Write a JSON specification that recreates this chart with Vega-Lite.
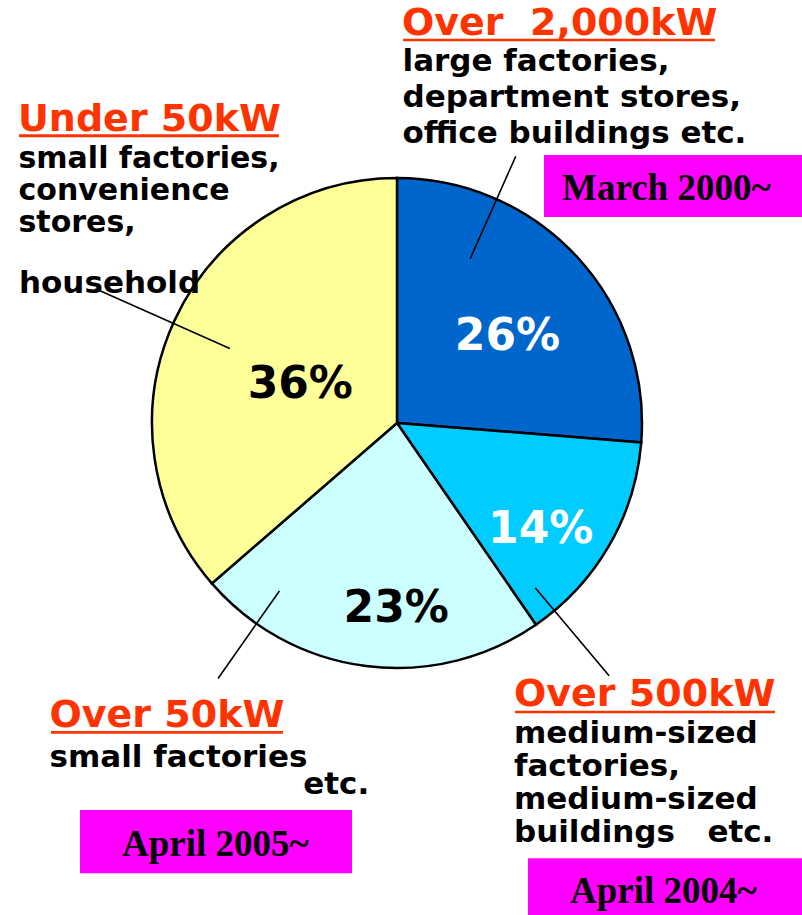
{
  "$schema": "https://vega.github.io/schema/vega-lite/v6.json",
  "width": 794,
  "height": 846,
  "autosize": {"type": "none"},
  "padding": {"left": 0, "top": 0, "right": 8, "bottom": 69},
  "background": "white",
  "config": {"view": {"stroke": null}},
  "data": {
    "values": [
      {"category": "Over 2,000kW", "order": 1, "value": 26, "pct": "26%", "heading": "Over\u00a0 2,000kW", "body": "large factories,\ndepartment stores,\noffice buildings etc.", "start": "March 2000~"},
      {"category": "Over 500kW", "order": 2, "value": 14, "pct": "14%", "heading": "Over 500kW", "body": "medium-sized\nfactories,\nmedium-sized\nbuildings\u00a0\u00a0 etc.", "start": "April 2004~"},
      {"category": "Over 50kW", "order": 3, "value": 23, "pct": "23%", "heading": "Over 50kW", "body": "small factories", "body2": "etc.", "start": "April 2005~"},
      {"category": "Under 50kW", "order": 4, "value": 36, "pct": "36%", "heading": "Under 50kW", "body": "small factories,\nconvenience\nstores,", "body2": "household"}
    ]
  },
  "layer": [
    {
      "mark": {"type": "arc", "radius": 245, "stroke": "black", "strokeWidth": 2.5},
      "encoding": {
        "theta": {"field": "value", "type": "quantitative", "stack": true},
        "order": {"field": "order", "type": "quantitative"},
        "color": {
          "field": "category", "type": "nominal",
          "scale": {"domain": ["Over 2,000kW", "Over 500kW", "Over 50kW", "Under 50kW"], "range": ["#0066CC", "#00CCFF", "#CCFFFF", "#FFFF99"]},
          "legend": null
        }
      }
    },
    {
      "transform": [
        {"stack": "value", "groupby": [], "sort": [{"field": "order", "order": "ascending"}], "as": ["v0", "v1"]},
        {"filter": {"field": "category", "equal": "Over 2,000kW"}}
      ],
      "resolve": {"scale": {"fill": "independent"}, "legend": {"fill": "independent"}},
      "layer": [
        {
          "mark": {"type": "arc", "radius": 292, "radius2": 180, "thetaOffset": 0.4189, "theta2Offset": 0.4189, "filled": false, "stroke": "black", "strokeWidth": 1.6},
          "encoding": {"theta": {"field": "v0", "type": "quantitative", "stack": null}, "theta2": {"field": "v0"}}
        },
        {
          "mark": {"type": "text", "radius": 250, "dx": 110.5, "dy": 176.5, "align": "center", "baseline": "alphabetic", "font": "DejaVu Sans", "fontWeight": "bold", "fontSize": 44, "color": "white"},
          "encoding": {"theta": {"field": "v0", "type": "quantitative", "stack": null}, "text": {"field": "pct"}}
        },
        {
          "mark": {"type": "text", "radius": 250, "dx": 5.5, "dy": -102.3, "align": "left", "baseline": "alphabetic", "font": "DejaVu Sans", "fontWeight": "bold", "fontSize": 31, "lineHeight": 36, "lineBreak": "\n", "color": "black"},
          "encoding": {"theta": {"field": "v0", "type": "quantitative", "stack": null}, "text": {"field": "body"}}
        },
        {
          "mark": {"type": "arc", "radius": 0, "strokeWidth": 0},
          "encoding": {
            "fill": {
              "field": "heading", "type": "nominal", "scale": {"range": ["#FF3300"]},
              "legend": {"title": null, "orient": "none", "legendX": 403, "legendY": -121, "padding": 0,
                "symbolType": "M-1,0.0237H1V0.0404H-1Z", "symbolSize": 97344, "symbolStrokeColor": "transparent", "symbolStrokeWidth": 0, "symbolOpacity": 1,
                "labelFont": "DejaVu Sans", "labelFontSize": 38, "labelFontWeight": "bold", "labelColor": "#FF3300", "labelBaseline": "alphabetic", "labelOffset": -313, "labelLimit": 1000}
            }
          }
        },
        {
          "mark": {"type": "arc", "radius": 0, "strokeWidth": 0},
          "encoding": {
            "fill": {
              "field": "start", "type": "nominal", "scale": {"range": ["#FF00FF"]},
              "legend": {"title": null, "orient": "none", "legendX": 544, "legendY": 71, "padding": 0,
                "symbolType": "M-1,-0.3488H1V0.1318H-1Z", "symbolSize": 66564, "symbolStrokeColor": "transparent", "symbolStrokeWidth": 0, "symbolOpacity": 1,
                "labelFont": "Liberation Serif", "labelFontSize": 37, "labelFontWeight": "bold", "labelColor": "black", "labelBaseline": "alphabetic", "labelOffset": -240, "labelLimit": 1000}
            }
          }
        }
      ]
    },
    {
      "transform": [
        {"stack": "value", "groupby": [], "sort": [{"field": "order", "order": "ascending"}], "as": ["v0", "v1"]},
        {"filter": {"field": "category", "equal": "Over 500kW"}}
      ],
      "resolve": {"scale": {"fill": "independent"}, "legend": {"fill": "independent"}},
      "layer": [
        {
          "mark": {"type": "arc", "radius": 330, "radius2": 215, "thetaOffset": -0.0952, "theta2Offset": -0.0952, "filled": false, "stroke": "black", "strokeWidth": 1.6},
          "encoding": {"theta": {"field": "v1", "type": "quantitative", "stack": null}, "theta2": {"field": "v1"}}
        },
        {
          "mark": {"type": "text", "radius": 250, "dx": 2, "dy": -86.4, "align": "center", "baseline": "alphabetic", "font": "DejaVu Sans", "fontWeight": "bold", "fontSize": 44, "color": "white"},
          "encoding": {"theta": {"field": "v1", "type": "quantitative", "stack": null}, "text": {"field": "pct"}}
        },
        {
          "mark": {"type": "text", "radius": 250, "dx": -24.8, "dy": 113.8, "align": "left", "baseline": "alphabetic", "font": "DejaVu Sans", "fontWeight": "bold", "fontSize": 31, "lineHeight": 33, "lineBreak": "\n", "color": "black"},
          "encoding": {"theta": {"field": "v1", "type": "quantitative", "stack": null}, "text": {"field": "body"}}
        },
        {
          "mark": {"type": "arc", "radius": 0, "strokeWidth": 0},
          "encoding": {
            "fill": {
              "field": "heading", "type": "nominal", "scale": {"range": ["#FF3300"]},
              "legend": {"title": null, "orient": "none", "legendX": 515, "legendY": 576, "padding": 0,
                "symbolType": "M-1,0.036H1V0.056H-1Z", "symbolSize": 67600, "symbolStrokeColor": "transparent", "symbolStrokeWidth": 0, "symbolOpacity": 1,
                "labelFont": "DejaVu Sans", "labelFontSize": 38, "labelFontWeight": "bold", "labelColor": "#FF3300", "labelBaseline": "alphabetic", "labelOffset": -261, "labelLimit": 1000}
            }
          }
        },
        {
          "mark": {"type": "arc", "radius": 0, "strokeWidth": 0},
          "encoding": {
            "fill": {
              "field": "start", "type": "nominal", "scale": {"range": ["#FF00FF"]},
              "legend": {"title": null, "orient": "none", "legendX": 528, "legendY": 766.3, "padding": 0,
                "symbolType": "M-1,-0.3285H1V0.124H-1Z", "symbolSize": 75076, "symbolStrokeColor": "transparent", "symbolStrokeWidth": 0, "symbolOpacity": 1,
                "labelFont": "Liberation Serif", "labelFontSize": 37, "labelFontWeight": "bold", "labelColor": "black", "labelBaseline": "alphabetic", "labelOffset": -232, "labelLimit": 1000}
            }
          }
        }
      ]
    },
    {
      "transform": [
        {"stack": "value", "groupby": [], "sort": [{"field": "order", "order": "ascending"}], "as": ["v0", "v1"]},
        {"filter": {"field": "category", "equal": "Over 50kW"}}
      ],
      "resolve": {"scale": {"fill": "independent"}, "legend": {"fill": "independent"}},
      "layer": [
        {
          "mark": {"type": "arc", "radius": 312, "radius2": 205, "thetaOffset": -0.2459, "theta2Offset": -0.2459, "filled": false, "stroke": "black", "strokeWidth": 1.6},
          "encoding": {"theta": {"field": "v1", "type": "quantitative", "stack": null}, "theta2": {"field": "v1"}}
        },
        {
          "mark": {"type": "text", "radius": 250, "dx": 188.2, "dy": 35.3, "align": "center", "baseline": "alphabetic", "font": "DejaVu Sans", "fontWeight": "bold", "fontSize": 44, "color": "black"},
          "encoding": {"theta": {"field": "v1", "type": "quantitative", "stack": null}, "text": {"field": "pct"}}
        },
        {
          "mark": {"type": "text", "radius": 250, "dx": 95.2, "dy": 207.3, "align": "left", "baseline": "alphabetic", "font": "DejaVu Sans", "fontWeight": "bold", "fontSize": 31, "color": "black"},
          "encoding": {"theta": {"field": "v1", "type": "quantitative", "stack": null}, "text": {"field": "body2"}}
        },
        {
          "mark": {"type": "text", "radius": 250, "dx": -158.6, "dy": 180.3, "align": "left", "baseline": "alphabetic", "font": "DejaVu Sans", "fontWeight": "bold", "fontSize": 31, "color": "black"},
          "encoding": {"theta": {"field": "v1", "type": "quantitative", "stack": null}, "text": {"field": "body"}}
        },
        {
          "mark": {"type": "arc", "radius": 0, "strokeWidth": 0},
          "encoding": {
            "fill": {
              "field": "heading", "type": "nominal", "scale": {"range": ["#FF3300"]},
              "legend": {"title": null, "orient": "none", "legendX": 51, "legendY": 610.7, "padding": 0,
                "symbolType": "M-1,0.037H1V0.060H-1Z", "symbolSize": 53824, "symbolStrokeColor": "transparent", "symbolStrokeWidth": 0, "symbolOpacity": 1,
                "labelFont": "DejaVu Sans", "labelFontSize": 38, "labelFontWeight": "bold", "labelColor": "#FF3300", "labelBaseline": "alphabetic", "labelOffset": -233.5, "labelLimit": 1000}
            }
          }
        },
        {
          "mark": {"type": "arc", "radius": 0, "strokeWidth": 0},
          "encoding": {
            "fill": {
              "field": "start", "type": "nominal", "scale": {"range": ["#FF00FF"]},
              "legend": {"title": null, "orient": "none", "legendX": 80, "legendY": 719.7, "padding": 0,
                "symbolType": "M-1,-0.336H1V0.129H-1Z", "symbolSize": 73984, "symbolStrokeColor": "transparent", "symbolStrokeWidth": 0, "symbolOpacity": 1,
                "labelFont": "Liberation Serif", "labelFontSize": 37, "labelFontWeight": "bold", "labelColor": "black", "labelBaseline": "alphabetic", "labelOffset": -230, "labelLimit": 1000}
            }
          }
        }
      ]
    },
    {
      "transform": [
        {"stack": "value", "groupby": [], "sort": [{"field": "order", "order": "ascending"}], "as": ["v0", "v1"]},
        {"filter": {"field": "category", "equal": "Under 50kW"}}
      ],
      "resolve": {"scale": {"fill": "independent"}, "legend": {"fill": "independent"}},
      "layer": [
        {
          "mark": {"type": "arc", "radius": 330, "radius2": 183, "thetaOffset": -1.1519, "theta2Offset": -1.1519, "filled": false, "stroke": "black", "strokeWidth": 1.6},
          "encoding": {"theta": {"field": "v1", "type": "quantitative", "stack": null}, "theta2": {"field": "v1"}}
        },
        {
          "mark": {"type": "text", "radius": 250, "dx": -96.7, "dy": 225, "align": "center", "baseline": "alphabetic", "font": "DejaVu Sans", "fontWeight": "bold", "fontSize": 44, "color": "black"},
          "encoding": {"theta": {"field": "v1", "type": "quantitative", "stack": null}, "text": {"field": "pct"}}
        },
        {
          "mark": {"type": "text", "radius": 250, "dx": -378, "dy": 120, "align": "left", "baseline": "alphabetic", "font": "DejaVu Sans", "fontWeight": "bold", "fontSize": 31, "color": "black"},
          "encoding": {"theta": {"field": "v1", "type": "quantitative", "stack": null}, "text": {"field": "body2"}}
        },
        {
          "mark": {"type": "text", "radius": 250, "dx": -378.5, "dy": -4.7, "align": "left", "baseline": "alphabetic", "font": "DejaVu Sans", "fontWeight": "bold", "fontSize": 30, "lineHeight": 31.7, "lineBreak": "\n", "color": "black"},
          "encoding": {"theta": {"field": "v1", "type": "quantitative", "stack": null}, "text": {"field": "body"}}
        },
        {
          "mark": {"type": "arc", "radius": 0, "strokeWidth": 0},
          "encoding": {
            "fill": {
              "field": "heading", "type": "nominal", "scale": {"range": ["#FF3300"]},
              "legend": {"title": null, "orient": "none", "legendX": 19, "legendY": 1, "padding": 0,
                "symbolType": "M-1,0.0254H1V0.0485H-1Z", "symbolSize": 67600, "symbolStrokeColor": "transparent", "symbolStrokeWidth": 0, "symbolOpacity": 1,
                "labelFont": "DejaVu Sans", "labelFontSize": 38, "labelFontWeight": "bold", "labelColor": "#FF3300", "labelBaseline": "alphabetic", "labelOffset": -261, "labelLimit": 1000}
            }
          }
        }
      ]
    }
  ],
  "resolve": {
    "scale": {"fill": "independent"},
    "legend": {"fill": "independent"}
  }
}
